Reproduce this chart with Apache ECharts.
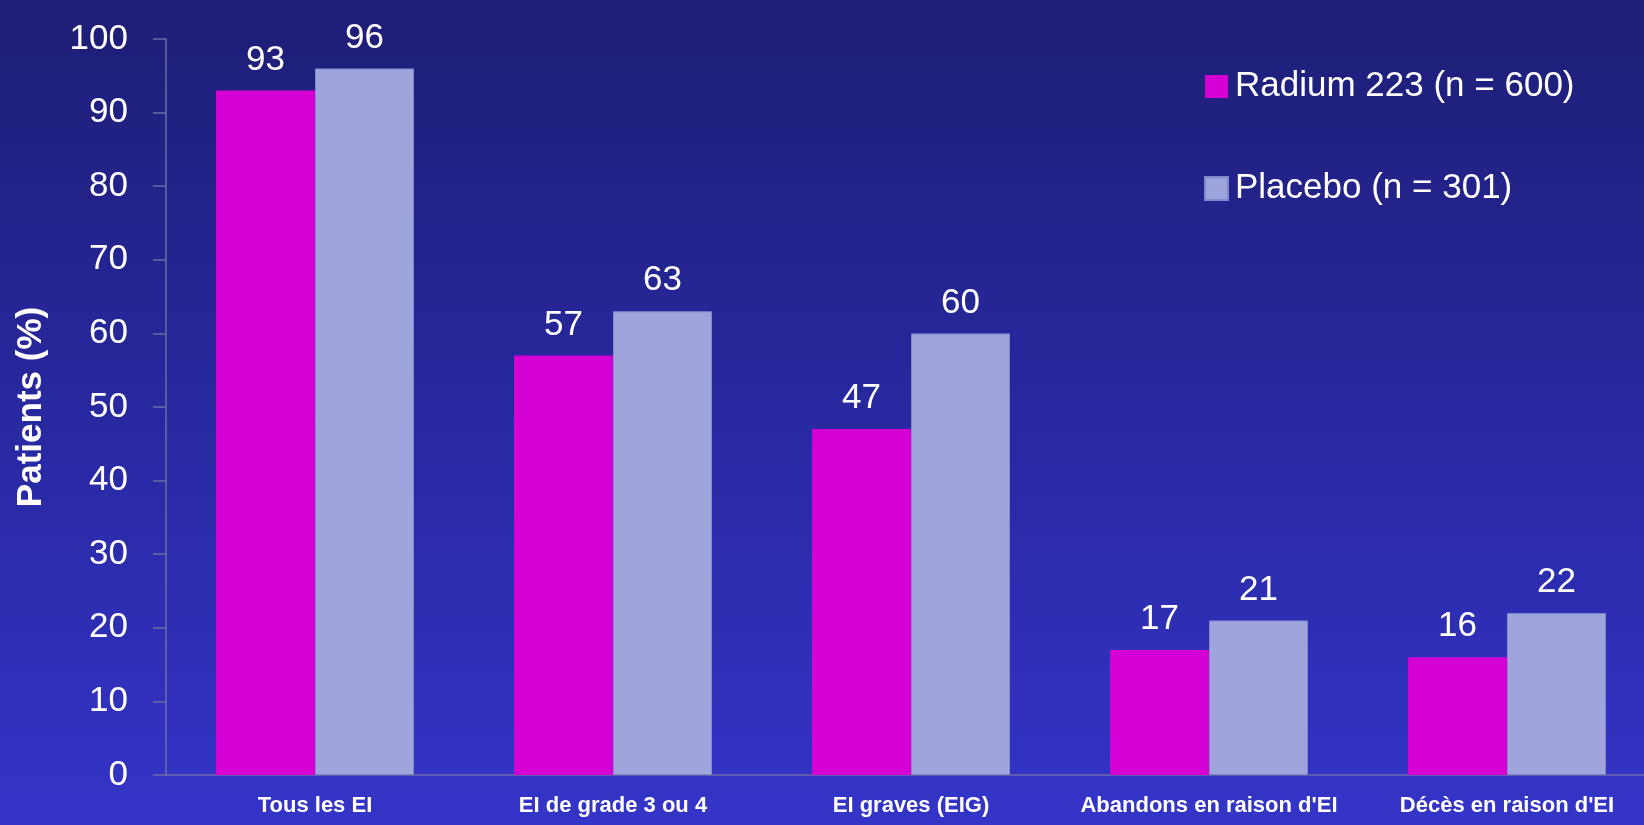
<!DOCTYPE html>
<html>
<head>
<meta charset="utf-8">
<title>Événements indésirables</title>
<script src="https://cdn.jsdelivr.net/npm/echarts@6/dist/echarts.min.js"></script>
<style>
  html, body { margin: 0; padding: 0; }
  #chart { width: 1644px; height: 825px; }
</style>
</head>
<body>
<div id="chart"></div>
<script>
// Catégories d'événements indésirables (EI)
const categories = ['Tous les EI', 'EI de grade 3 ou 4', 'EI graves (EIG)', "Abandons en raison d'EI", "Décès en raison d'EI"];
// Pourcentage de patients par bras
const radiumValues = [93, 57, 47, 17, 16];
const placeboValues = [96, 63, 60, 21, 22];
const seriesNames = ['Radium 223 (n = 600)', 'Placebo (n = 301)'];
const yTicks = [0, 10, 20, 30, 40, 50, 60, 70, 80, 90, 100];

const font = '"Liberation Sans", Arial, sans-serif';

const chart = echarts.init(document.getElementById('chart'), null, { renderer: 'canvas' });

const labelStyle = {
  show: true,
  position: 'top',
  distance: 13,
  color: '#ffffff',
  fontFamily: font,
  fontSize: 35
};

chart.setOption({
  backgroundColor: {
    type: 'linear', x: 0, y: 0, x2: 0, y2: 1,
    colorStops: [
      { offset: 0, color: '#1e1e76' },
      { offset: 0.5, color: '#2828a0' },
      { offset: 1, color: '#3434c8' }
    ]
  },
  animation: false,
  grid: { left: 166, top: 39, width: 1490, height: 736, outerBoundsMode: 'none', containLabel: false },
  legend: {
    orient: 'vertical',
    left: 1199,
    top: 64,
    itemWidth: 23,
    itemHeight: 23,
    itemGap: 67,
    icon: 'rect',
    textStyle: { color: '#ffffff', fontFamily: font, fontSize: 35, padding: [0, 0, 0, 2] },
    data: seriesNames
  },
  xAxis: {
    type: 'category',
    data: categories,
    axisLine: { lineStyle: { color: '#6c6ca4', width: 1.5 } },
    axisTick: { show: false },
    axisLabel: {
      interval: 0,
      color: '#ffffff',
      fontFamily: font,
      fontWeight: 'bold',
      fontSize: 22,
      margin: 20
    }
  },
  yAxis: {
    type: 'value',
    min: yTicks[0],
    max: yTicks[yTicks.length - 1],
    interval: 10,
    name: 'Patients (%)',
    nameLocation: 'middle',
    nameGap: 117,
    nameTextStyle: { color: '#ffffff', fontFamily: font, fontWeight: 'bold', fontSize: 35 },
    axisLine: { show: true, lineStyle: { color: '#6c6ca4', width: 1.5 } },
    axisTick: { show: true, inside: false, length: 13, lineStyle: { color: '#6c6ca4', width: 1.5 } },
    splitLine: { show: false },
    axisLabel: {
      color: '#ffffff',
      fontFamily: font,
      fontSize: 35,
      margin: 38
    }
  },
  series: [
    {
      name: seriesNames[0],
      type: 'bar',
      data: radiumValues,
      barWidth: 99,
      barGap: '0%',
      itemStyle: { color: '#d400d4' },
      label: labelStyle
    },
    {
      name: seriesNames[1],
      type: 'bar',
      data: placeboValues,
      barWidth: 99,
      barGap: '0%',
      itemStyle: { color: '#9fa5dc', borderColor: '#8388cc', borderWidth: 1 },
      label: labelStyle
    }
  ]
});
</script>
</body>
</html>
